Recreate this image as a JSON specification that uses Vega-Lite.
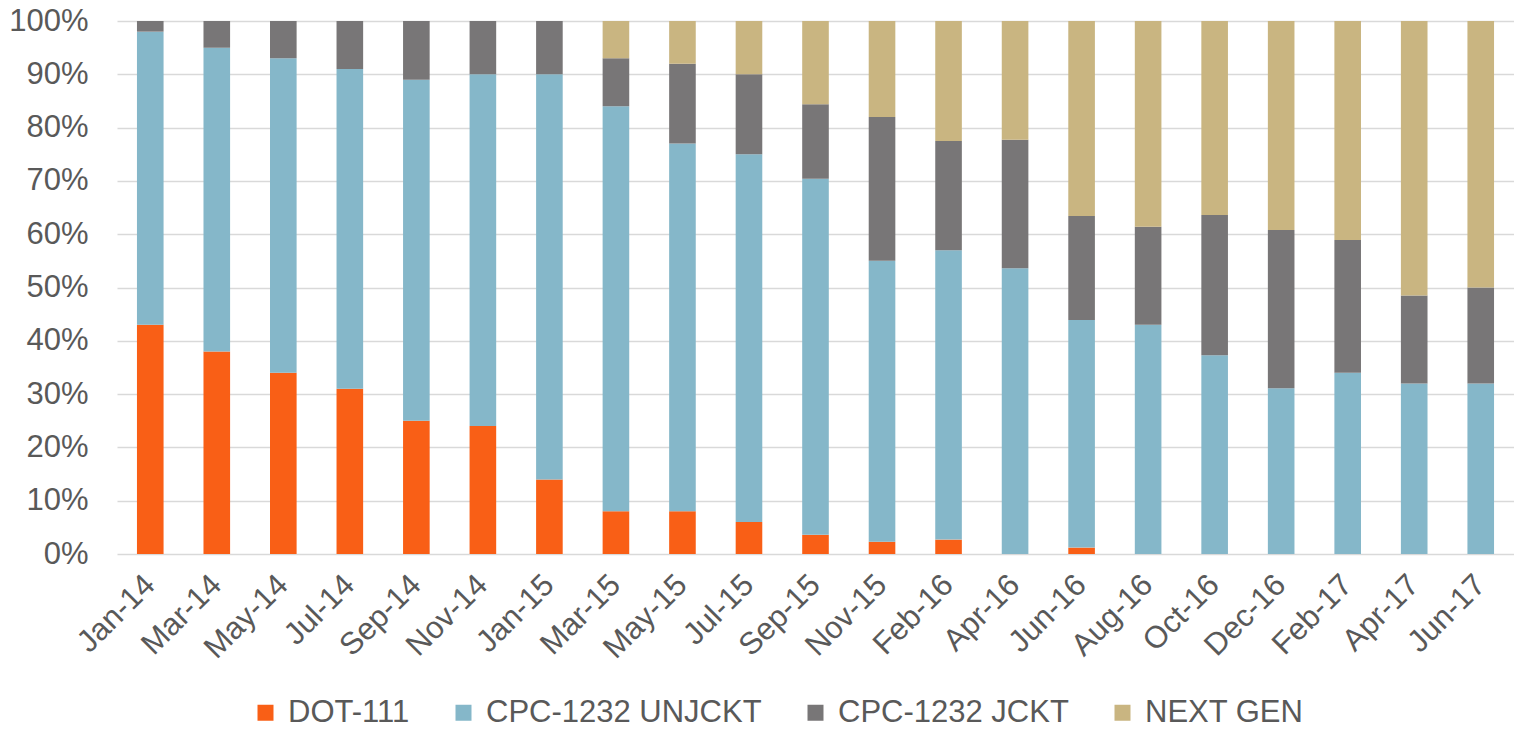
{
  "$schema": "https://vega.github.io/schema/vega-lite/v6.json",
  "width": 1397,
  "height": 533,
  "autosize": {"type": "none"},
  "padding": {"left": 117, "top": 21, "right": 0, "bottom": 177},
  "background": "white",
  "config": {
    "view": {"stroke": null},
    "font": "Liberation Sans"
  },
  "data": {
    "values": [
      {"m": "Jan-14", "t": "DOT-111", "v": 43}, {"m": "Jan-14", "t": "CPC-1232 UNJCKT", "v": 55}, {"m": "Jan-14", "t": "CPC-1232 JCKT", "v": 2},
      {"m": "Mar-14", "t": "DOT-111", "v": 38}, {"m": "Mar-14", "t": "CPC-1232 UNJCKT", "v": 57}, {"m": "Mar-14", "t": "CPC-1232 JCKT", "v": 5},
      {"m": "May-14", "t": "DOT-111", "v": 34}, {"m": "May-14", "t": "CPC-1232 UNJCKT", "v": 59}, {"m": "May-14", "t": "CPC-1232 JCKT", "v": 7},
      {"m": "Jul-14", "t": "DOT-111", "v": 31}, {"m": "Jul-14", "t": "CPC-1232 UNJCKT", "v": 60}, {"m": "Jul-14", "t": "CPC-1232 JCKT", "v": 9},
      {"m": "Sep-14", "t": "DOT-111", "v": 25}, {"m": "Sep-14", "t": "CPC-1232 UNJCKT", "v": 64}, {"m": "Sep-14", "t": "CPC-1232 JCKT", "v": 11},
      {"m": "Nov-14", "t": "DOT-111", "v": 24}, {"m": "Nov-14", "t": "CPC-1232 UNJCKT", "v": 66}, {"m": "Nov-14", "t": "CPC-1232 JCKT", "v": 10},
      {"m": "Jan-15", "t": "DOT-111", "v": 14}, {"m": "Jan-15", "t": "CPC-1232 UNJCKT", "v": 76}, {"m": "Jan-15", "t": "CPC-1232 JCKT", "v": 10},
      {"m": "Mar-15", "t": "DOT-111", "v": 8}, {"m": "Mar-15", "t": "CPC-1232 UNJCKT", "v": 76}, {"m": "Mar-15", "t": "CPC-1232 JCKT", "v": 9}, {"m": "Mar-15", "t": "NEXT GEN", "v": 7},
      {"m": "May-15", "t": "DOT-111", "v": 8}, {"m": "May-15", "t": "CPC-1232 UNJCKT", "v": 69}, {"m": "May-15", "t": "CPC-1232 JCKT", "v": 15}, {"m": "May-15", "t": "NEXT GEN", "v": 8},
      {"m": "Jul-15", "t": "DOT-111", "v": 6}, {"m": "Jul-15", "t": "CPC-1232 UNJCKT", "v": 69}, {"m": "Jul-15", "t": "CPC-1232 JCKT", "v": 15}, {"m": "Jul-15", "t": "NEXT GEN", "v": 10},
      {"m": "Sep-15", "t": "DOT-111", "v": 3.6}, {"m": "Sep-15", "t": "CPC-1232 UNJCKT", "v": 66.8}, {"m": "Sep-15", "t": "CPC-1232 JCKT", "v": 14}, {"m": "Sep-15", "t": "NEXT GEN", "v": 15.6},
      {"m": "Nov-15", "t": "DOT-111", "v": 2.3}, {"m": "Nov-15", "t": "CPC-1232 UNJCKT", "v": 52.7}, {"m": "Nov-15", "t": "CPC-1232 JCKT", "v": 27}, {"m": "Nov-15", "t": "NEXT GEN", "v": 18},
      {"m": "Feb-16", "t": "DOT-111", "v": 2.7}, {"m": "Feb-16", "t": "CPC-1232 UNJCKT", "v": 54.3}, {"m": "Feb-16", "t": "CPC-1232 JCKT", "v": 20.5}, {"m": "Feb-16", "t": "NEXT GEN", "v": 22.5},
      {"m": "Apr-16", "t": "CPC-1232 UNJCKT", "v": 53.6}, {"m": "Apr-16", "t": "CPC-1232 JCKT", "v": 24.1}, {"m": "Apr-16", "t": "NEXT GEN", "v": 22.3},
      {"m": "Jun-16", "t": "DOT-111", "v": 1.2}, {"m": "Jun-16", "t": "CPC-1232 UNJCKT", "v": 42.7}, {"m": "Jun-16", "t": "CPC-1232 JCKT", "v": 19.5}, {"m": "Jun-16", "t": "NEXT GEN", "v": 36.6},
      {"m": "Aug-16", "t": "CPC-1232 UNJCKT", "v": 43}, {"m": "Aug-16", "t": "CPC-1232 JCKT", "v": 18.4}, {"m": "Aug-16", "t": "NEXT GEN", "v": 38.6},
      {"m": "Oct-16", "t": "CPC-1232 UNJCKT", "v": 37.3}, {"m": "Oct-16", "t": "CPC-1232 JCKT", "v": 26.3}, {"m": "Oct-16", "t": "NEXT GEN", "v": 36.4},
      {"m": "Dec-16", "t": "CPC-1232 UNJCKT", "v": 31.1}, {"m": "Dec-16", "t": "CPC-1232 JCKT", "v": 29.7}, {"m": "Dec-16", "t": "NEXT GEN", "v": 39.2},
      {"m": "Feb-17", "t": "CPC-1232 UNJCKT", "v": 34}, {"m": "Feb-17", "t": "CPC-1232 JCKT", "v": 24.9}, {"m": "Feb-17", "t": "NEXT GEN", "v": 41.1},
      {"m": "Apr-17", "t": "CPC-1232 UNJCKT", "v": 32}, {"m": "Apr-17", "t": "CPC-1232 JCKT", "v": 16.5}, {"m": "Apr-17", "t": "NEXT GEN", "v": 51.5},
      {"m": "Jun-17", "t": "CPC-1232 UNJCKT", "v": 32}, {"m": "Jun-17", "t": "CPC-1232 JCKT", "v": 18}, {"m": "Jun-17", "t": "NEXT GEN", "v": 50}
    ]
  },
  "transform": [
    {"calculate": "indexof(['DOT-111','CPC-1232 UNJCKT','CPC-1232 JCKT','NEXT GEN'], datum.t)", "as": "o"}
  ],
  "mark": {"type": "bar"},
  "encoding": {
    "x": {
      "field": "m",
      "type": "nominal",
      "sort": null,
      "scale": {"paddingInner": 0.6, "paddingOuter": 0.3},
      "axis": {
        "title": null,
        "labelAngle": -45,
        "labelAlign": "right",
        "labelBaseline": "middle",
        "labelFontSize": 31,
        "labelColor": "#595959",
        "labelPadding": 26,
        "ticks": false,
        "domain": false,
        "labelOverlap": false
      }
    },
    "y": {
      "field": "v",
      "type": "quantitative",
      "stack": "normalize",
      "scale": {"domain": [0, 1]},
      "axis": {
        "title": null,
        "format": ".0%",
        "values": [0, 0.1, 0.2, 0.3, 0.4, 0.5, 0.6, 0.7, 0.8, 0.9, 1],
        "labelOverlap": false,
        "labelFontSize": 31,
        "labelColor": "#595959",
        "labelPadding": 29,
        "ticks": false,
        "domain": false,
        "gridColor": "#D9D9D9",
        "gridWidth": 1.5
      }
    },
    "color": {
      "field": "t",
      "type": "nominal",
      "scale": {
        "domain": ["DOT-111", "CPC-1232 UNJCKT", "CPC-1232 JCKT", "NEXT GEN"],
        "range": ["#F95F16", "#85B7C9", "#787677", "#C9B581"]
      },
      "legend": {
        "title": null,
        "orient": "none",
        "legendX": 133,
        "legendY": 676,
        "direction": "horizontal",
        "symbolType": "square",
        "symbolSize": 256,
        "symbolStrokeWidth": 0,
        "labelFontSize": 31,
        "labelLimit": 0,
        "labelColor": "#595959",
        "labelOffset": 7,
        "columnPadding": 38
      }
    },
    "order": {"field": "o", "type": "quantitative"}
  }
}
